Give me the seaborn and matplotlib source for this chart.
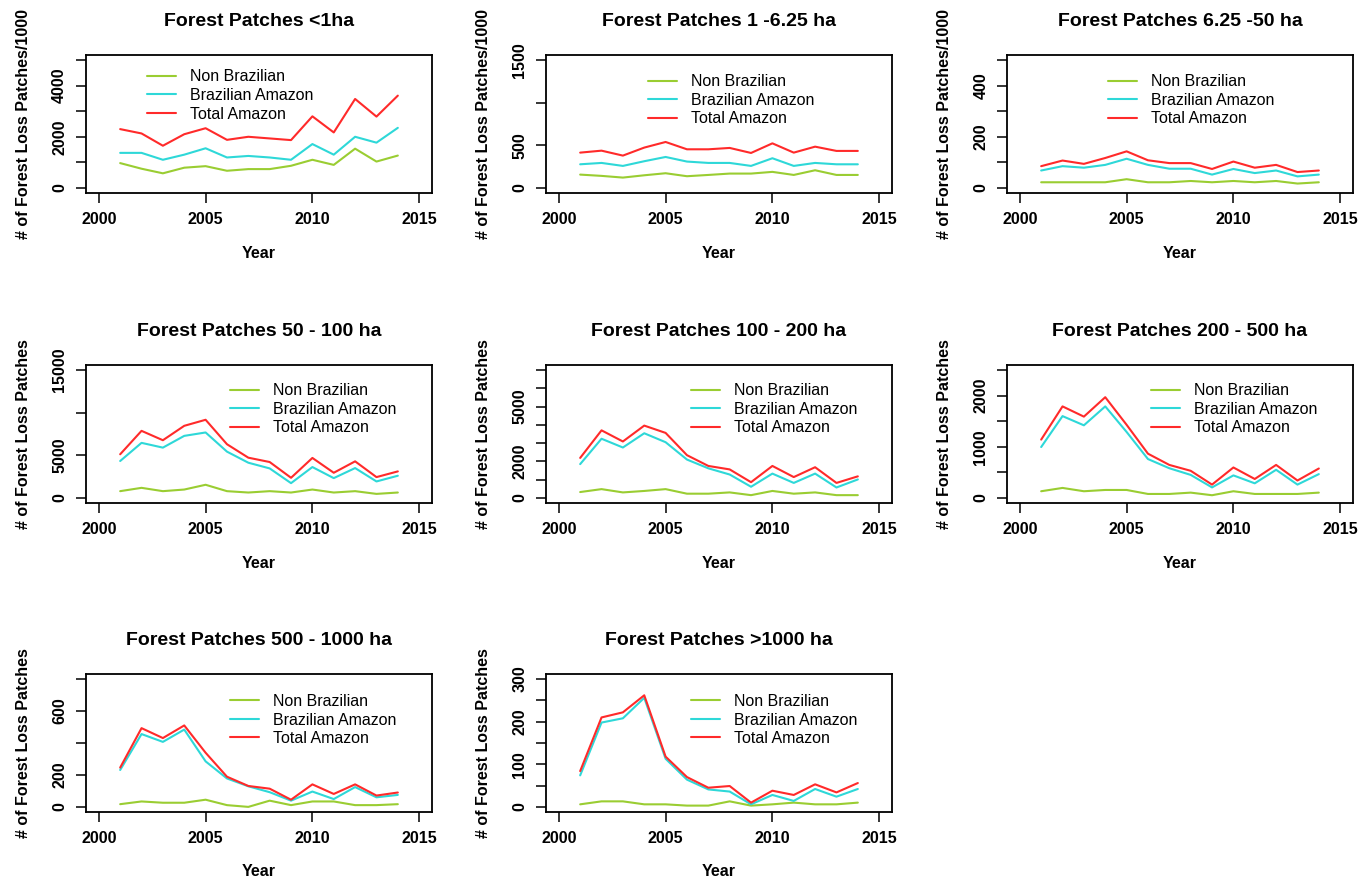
import matplotlib
matplotlib.use("Agg")
import matplotlib.pyplot as plt
from matplotlib.lines import Line2D
import numpy as np
import pandas as pd
import seaborn as sns

# ---------------- data ----------------
years = list(range(2001, 2015))
series_names = ["Non Brazilian", "Brazilian Amazon", "Total Amazon"]

titles = ["Forest Patches <1ha", "Forest Patches 1 -6.25 ha", "Forest Patches 6.25 -50 ha",
          "Forest Patches 50 - 100 ha", "Forest Patches 100 - 200 ha", "Forest Patches 200 - 500 ha",
          "Forest Patches 500 - 1000 ha", "Forest Patches >1000 ha"]
ylabels = ["# of Forest Loss Patches/1000"] * 3 + ["# of Forest Loss Patches"] * 5

non_lt1 = [970, 750, 570, 790, 850, 670, 735, 735, 865, 1100, 900, 1535, 1030, 1265]
braz_lt1 = [1370, 1370, 1100, 1300, 1550, 1190, 1250, 1190, 1100, 1715, 1300, 2000, 1770, 2350]
total_lt1 = [2300, 2130, 1650, 2100, 2335, 1880, 2000, 1935, 1870, 2800, 2170, 3480, 2790, 3610]

non_1_6 = [156, 141, 121, 148, 172, 137, 152, 168, 168, 188, 152, 207, 152, 152]
braz_1_6 = [277, 293, 258, 313, 363, 309, 293, 293, 258, 348, 258, 293, 277, 277]
total_1_6 = [414, 437, 379, 473, 539, 453, 453, 469, 410, 523, 414, 484, 434, 434]

non_6_50 = [22, 22, 22, 22, 34, 22, 22, 27, 22, 27, 22, 27, 17, 22]
braz_6_50 = [68, 85, 79, 90, 114, 90, 75, 75, 52, 74, 58, 68, 45, 52]
total_6_50 = [85, 107, 94, 117, 143, 108, 97, 97, 74, 103, 79, 90, 62, 68]

non_50_100 = [790, 1180, 790, 980, 1540, 790, 630, 790, 630, 980, 630, 790, 470, 630]
braz_50_100 = [4330, 6460, 5900, 7280, 7680, 5430, 4130, 3460, 1730, 3620, 2320, 3500, 1930, 2600]
total_50_100 = [5120, 7870, 6770, 8460, 9170, 6300, 4720, 4210, 2360, 4690, 2950, 4290, 2440, 3110]

non_100_200 = [320, 480, 300, 380, 480, 230, 230, 300, 150, 380, 230, 300, 150, 150]
braz_100_200 = [1850, 3240, 2760, 3540, 3050, 2100, 1620, 1280, 610, 1330, 820, 1330, 570, 1010]
total_100_200 = [2190, 3700, 3090, 3960, 3560, 2340, 1750, 1560, 860, 1750, 1140, 1680, 820, 1180]

non_200_500 = [130, 195, 130, 155, 155, 77, 77, 103, 52, 130, 77, 77, 77, 103]
braz_200_500 = [995, 1600, 1420, 1790, 1290, 760, 580, 450, 205, 440, 285, 550, 260, 465]
total_200_500 = [1140, 1790, 1590, 1970, 1430, 865, 645, 530, 260, 595, 370, 645, 340, 575]

non_500_1000 = [17, 34, 26, 26, 45, 11, 0, 39, 11, 34, 34, 11, 11, 17]
braz_500_1000 = [231, 456, 407, 484, 285, 178, 129, 92, 39, 96, 49, 124, 60, 75]
total_500_1000 = [246, 493, 431, 510, 339, 189, 131, 114, 45, 141, 81, 141, 71, 90]

non_gt1000 = [6, 13, 13, 6, 6, 3, 3, 13, 3, 6, 10, 6, 6, 10]
braz_gt1000 = [74, 198, 208, 256, 113, 64, 41, 36, 6, 28, 14, 42, 24, 42]
total_gt1000 = [84, 210, 222, 262, 118, 70, 45, 49, 10, 38, 28, 53, 34, 56]

panel_series = [
    (non_lt1, braz_lt1, total_lt1),
    (non_1_6, braz_1_6, total_1_6),
    (non_6_50, braz_6_50, total_6_50),
    (non_50_100, braz_50_100, total_50_100),
    (non_100_200, braz_100_200, total_100_200),
    (non_200_500, braz_200_500, total_200_500),
    (non_500_1000, braz_500_1000, total_500_1000),
    (non_gt1000, braz_gt1000, total_gt1000),
]

# y tick values and which ones carry a label
ytick_max = [5000, 1500, 500, 15000, 7000, 2500, 800, 300]
ytick_step = [1000, 500, 100, 5000, 1000, 500, 200, 50]
ytick_shown = [[0, 2000, 4000], [0, 500, 1500], [0, 200, 400], [0, 5000, 15000],
               [0, 2000, 5000], [0, 1000, 2000], [0, 200, 600], [0, 100, 200, 300]]
xticks = [2000, 2005, 2010, 2015]

# ---------------- style / layout ----------------
colors = ["#9ACD32", "#2ED8D8", "#FF2A2A"]
sns.set_style("ticks")
plt.rcParams['font.family'] = ['Liberation Sans', 'DejaVu Sans']
plt.rcParams['text.color'] = 'black'
plt.rcParams['axes.labelcolor'] = 'black'
plt.rcParams['xtick.color'] = 'black'
plt.rcParams['ytick.color'] = 'black'

W, H = 1362, 891
col_left = [86, 546, 1007]
row_top = [55, 365, 674]
AW, AH = 346, 138
legend_anchor = [(0.176, 0.895), (0.295, 0.860), (0.292, 0.860),
                 (0.416, 0.868), (0.419, 0.868), (0.416, 0.868),
                 (0.416, 0.855), (0.419, 0.855)]
FS = 11.5

fig = plt.figure(figsize=(W / 100, H / 100), dpi=100)

for i, (title, ylab, series) in enumerate(zip(titles, ylabels, panel_series)):
    r, c = divmod(i, 3)
    ax = fig.add_axes([col_left[c] / W, 1 - (row_top[r] + AH) / H, AW / W, AH / H])
    df = pd.DataFrame({
        "Year": years * 3,
        "Patches": list(series[0]) + list(series[1]) + list(series[2]),
        "Region": sum([[n] * len(years) for n in series_names], []),
    })
    sns.lineplot(data=df, x="Year", y="Patches", hue="Region", hue_order=series_names,
                 palette=colors, linewidth=1.5, legend=False, errorbar=None, ax=ax)

    ymax = ytick_max[i]
    ax.set_xlim(1999.4, 2015.6)
    ax.set_ylim(-0.04 * ymax, 1.04 * ymax)
    ax.set_xticks(xticks, [str(x) for x in xticks], fontsize=FS, fontweight='bold')
    yt = list(range(0, ymax + 1, ytick_step[i]))
    ax.set_yticks(yt, [str(v) if v in ytick_shown[i] else "" for v in yt],
                  fontsize=FS, fontweight='bold', rotation=90, va='center')
    ax.tick_params(direction='out', length=7, width=1.1, color='black', pad=7)
    ax.tick_params(axis='y', pad=6.5)
    for s in ax.spines.values():
        s.set_visible(True)
        s.set_color('black')
        s.set_linewidth(1.3)

    ax.set_title(title, fontsize=14, fontweight='bold', pad=21, color='black')
    ax.set_xlabel("Year", fontsize=FS, fontweight='bold', labelpad=13)
    ax.set_ylabel(ylab, fontsize=FS, fontweight='bold')
    ax.yaxis.set_label_coords(-0.182, 0.5)
    ax.yaxis.label.set_va('center')

    handles = [Line2D([], [], color=col, lw=1.5) for col in colors]
    ax.legend(handles, series_names, loc='upper left', bbox_to_anchor=legend_anchor[i],
              frameon=False, borderpad=0, borderaxespad=0, handlelength=1.8,
              handletextpad=0.9, labelspacing=0.22, fontsize=FS)

fig.savefig("out.png", dpi=100, facecolor='white')
